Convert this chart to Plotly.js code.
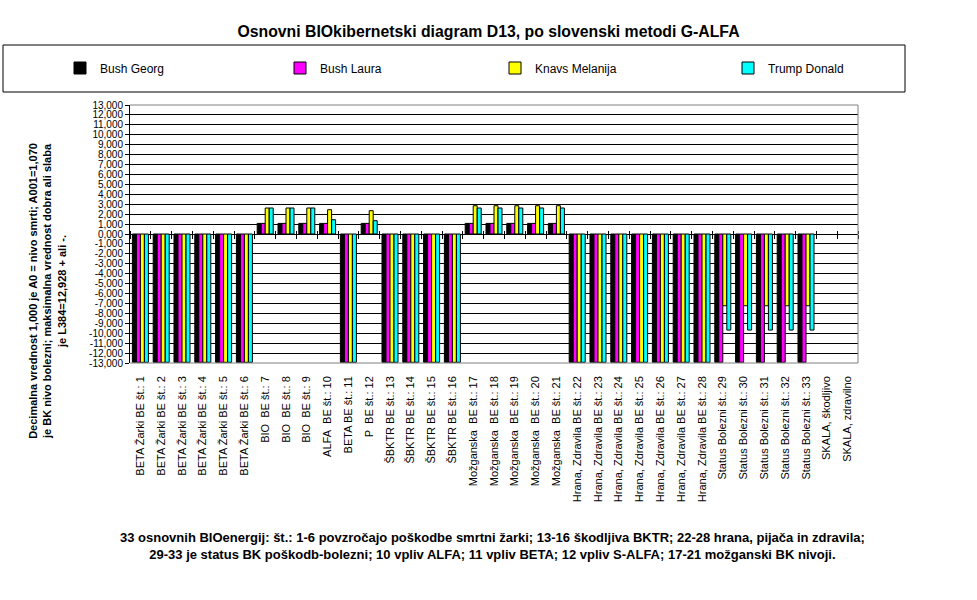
<!DOCTYPE html>
<html><head><meta charset="utf-8">
<script src="https://cdn.plot.ly/plotly-3.0.1.min.js"></script>
<style>html,body{margin:0;padding:0;background:#fff}#chart{width:977px;height:600px}</style>
</head><body><div id="chart"></div>
<script>
const categories = [
  "BETA Žarki BE št.: 1","BETA Žarki BE št.: 2","BETA Žarki BE št.: 3","BETA Žarki BE št.: 4",
  "BETA Žarki BE št.: 5","BETA Žarki BE št.: 6",
  "BIO\u00a0 BE št.: 7","BIO\u00a0 BE št.: 8","BIO\u00a0 BE št.: 9",
  "ALFA\u00a0 BE št.: 10","BETA BE št.: 11","P\u00a0 BE št.: 12",
  "ŠBKTR BE št.: 13","ŠBKTR BE št.: 14","ŠBKTR BE št.: 15","ŠBKTR BE št.: 16",
  "Možganska\u00a0 BE št.: 17","Možganska\u00a0 BE št.: 18","Možganska\u00a0 BE št.: 19",
  "Možganska\u00a0 BE št.: 20","Možganska\u00a0 BE št.: 21",
  "Hrana, Zdravila BE št.: 22","Hrana, Zdravila BE št.: 23","Hrana, Zdravila BE št.: 24",
  "Hrana, Zdravila BE št.: 25","Hrana, Zdravila BE št.: 26","Hrana, Zdravila BE št.: 27",
  "Hrana, Zdravila BE št.: 28",
  "Status Bolezni št.: 29","Status Bolezni št.: 30","Status Bolezni št.: 31",
  "Status Bolezni št.: 32","Status Bolezni št.: 33",
  "SKALA, škodljivo","SKALA, zdravilno"
];
const seriesNames = ["Bush Georg","Bush Laura","Knavs Melanija","Trump Donald"];
const bushGeorg = [-12.93,-12.93,-12.93,-12.93,-12.93,-12.93, 1.07,1.07,1.07, 1.07,-12.93,1.07,
  -12.93,-12.93,-12.93,-12.93, 1.07,1.07,1.07,1.07,1.07,
  -12.93,-12.93,-12.93,-12.93,-12.93,-12.93,-12.93, -12.93,-12.93,-12.93,-12.93,-12.93, null,null];
const bushLaura = [-12.93,-12.93,-12.93,-12.93,-12.93,-12.93, 1.07,1.07,1.07, 1.07,-12.93,1.07,
  -12.93,-12.93,-12.93,-12.93, 1.07,1.07,1.07,1.07,1.07,
  -12.93,-12.93,-12.93,-12.93,-12.93,-12.93,-12.93, -12.93,-12.93,-12.93,-12.93,-12.93, null,null];
const knavsMelanija = [-12.93,-12.93,-12.93,-12.93,-12.93,-12.93, 2.62,2.62,2.62, 2.45,-12.93,2.35,
  -12.93,-12.93,-12.93,-12.93, 2.85,2.85,2.85,2.85,2.85,
  -12.93,-12.93,-12.93,-12.93,-12.93,-12.93,-12.93, -7.23,-7.23,-7.23,-7.23,-7.23, null,null];
const trumpDonald = [-12.93,-12.93,-12.93,-12.93,-12.93,-12.93, 2.62,2.62,2.62, 1.44,-12.93,1.34,
  -12.93,-12.93,-12.93,-12.93, 2.62,2.62,2.62,2.62,2.62,
  -12.93,-12.93,-12.93,-12.93,-12.93,-12.93,-12.93, -9.68,-9.68,-9.68,-9.68,-9.68, null,null];
const yTickVals = [13,12,11,10,9,8,7,6,5,4,3,2,1,0,-1,-2,-3,-4,-5,-6,-7,-8,-9,-10,-11,-12,-13];
const yTickText = ["13,000","12,000","11,000","10,000","9,000","8,000","7,000","6,000","5,000",
  "4,000","3,000","2,000","1,000","0,000","-1,000","-2,000","-3,000","-4,000","-5,000","-6,000",
  "-7,000","-8,000","-9,000","-10,000","-11,000","-12,000","-13,000"];
const colors = ["#000000","#FF00FF","#FFFF00","#00FFFF"];
const chartTitle = "Osnovni BIOkibernetski diagram D13, po slovenski metodi G-ALFA";
const yTitle = "Decimalna vrednost 1,000 je A0 = nivo smrti; A001=1,070<br>je BK nivo bolezni; maksimalna vrednost dobra ali slaba<br>je L384=12,928 + ali -.";
const xTitle = "33 osnovnih BIOenergij: št.: 1-6 povzročajo poškodbe smrtni žarki; 13-16 škodljiva BKTR; 22-28 hrana, pijača in zdravila;<br>29-33 je status BK poškodb-bolezni; 10 vpliv ALFA; 11 vpliv BETA; 12 vpliv S-ALFA; 17-21 možganski BK nivoji.";

const FONT = "Arial, 'Liberation Sans', sans-serif";
const values = [bushGeorg, bushLaura, knavsMelanija, trumpDonald];
const legendIds = ["legend","legend2","legend3","legend4"];
const traces = values.map((v, i) => ({
  type: "bar", name: seriesNames[i], x: categories, y: v, legend: legendIds[i],
  marker: {color: colors[i], line: {color: "#000000", width: 1}},
  hoverinfo: "x+y+name"
}));
traces.push({type: "scatter", mode: "markers", x: categories, y: categories.map(() => null),
  xaxis: "x2", showlegend: false, hoverinfo: "skip"});
traces.push({type: "scatter", mode: "markers", x: categories, y: categories.map(() => null),
  xaxis: "x3", showlegend: false, hoverinfo: "skip"});

const legendLeftPx = [60, 280, 495, 728];
const mkLegend = (px) => ({orientation: "h", xref: "container", x: px/977, xanchor: "left",
  yref: "container", y: 1 - 68/600, yanchor: "middle", font: {family: FONT, size: 12},
  bgcolor: "rgba(0,0,0,0)", borderwidth: 0, itemwidth: 30});

const xr = [-0.5, categories.length - 0.5];
const layout = {
  width: 977, height: 600,
  paper_bgcolor: "#ffffff", plot_bgcolor: "#ffffff",
  margin: {l: 130, r: 119, t: 105, b: 237},
  font: {family: FONT, size: 11, color: "#000000"},
  title: {text: chartTitle, font: {family: FONT, size: 15.8, color: "#000", weight: "bold"},
    x: 0.5, xref: "container", y: 1 - 31/600, yref: "container", yanchor: "middle"},
  barmode: "group", bargap: 0.23, bargroupgap: 0,
  showlegend: true,
  legend: mkLegend(legendLeftPx[0]),
  legend2: mkLegend(legendLeftPx[1]),
  legend3: mkLegend(legendLeftPx[2]),
  legend4: mkLegend(legendLeftPx[3]),
  xaxis: {type: "category", categoryorder: "array", categoryarray: categories, range: xr,
    tickangle: -90, ticks: "", showgrid: false, zeroline: false, showline: false,
    ticklabelstandoff: 10,
    tickfont: {family: FONT, size: 11}, automargin: false},
  xaxis2: {type: "category", categoryorder: "array", categoryarray: categories, range: xr,
    overlaying: "x", anchor: "free", position: 0.5, side: "bottom", showticklabels: false,
    ticks: "outside", ticklen: 4, tickcolor: "#000", tickson: "boundaries", showgrid: false,
    zeroline: false, showline: false},
  xaxis3: {type: "category", categoryorder: "array", categoryarray: categories, range: xr,
    overlaying: "x", anchor: "free", position: 0.5, side: "top", showticklabels: false,
    ticks: "outside", ticklen: 3, tickcolor: "#000", tickson: "boundaries", showgrid: false,
    zeroline: false, showline: false},
  yaxis: {range: [-13, 13], tickmode: "array", tickvals: yTickVals, ticktext: yTickText,
    ticks: "outside", ticklen: 4, tickcolor: "#000", showline: true, linecolor: "#000", linewidth: 1,
    showgrid: true, gridcolor: "#000", gridwidth: 1, zeroline: true, zerolinecolor: "#000",
    zerolinewidth: 1, tickfont: {family: FONT, size: 10}, automargin: false},
  shapes: [
    {type: "line", xref: "x domain", yref: "y domain", x0: 0, x1: 1, y0: 1, y1: 1, line: {color: "#808080", width: 1}},
    {type: "line", xref: "x domain", yref: "y domain", x0: 1, x1: 1, y0: 0, y1: 1, line: {color: "#808080", width: 1}},
    {type: "line", xref: "x domain", yref: "y domain", x0: 0, x1: 1, y0: 0, y1: 0, line: {color: "#808080", width: 1}},
    {type: "rect", xref: "paper", yref: "paper", x0: (3-130)/728, x1: (905-130)/728,
      y0: (363-92)/258, y1: (363-45)/258, line: {color: "#000", width: 1}, fillcolor: "rgba(0,0,0,0)"}
  ],
  annotations: [
    {text: yTitle, xref: "paper", yref: "paper", x: (47-130)/728, y: (363-291)/258,
      textangle: -90, showarrow: false, xanchor: "center", yanchor: "middle",
      font: {family: FONT, size: 11, weight: "bold"}, align: "center"},
    {text: xTitle, xref: "paper", yref: "paper", x: (492-130)/728, y: (363-545.5)/258,
      showarrow: false, xanchor: "center", yanchor: "middle",
      font: {family: FONT, size: 13, weight: "bold"}, align: "center"}
  ]
};
Plotly.newPlot("chart", traces, layout, {displayModeBar: false, staticPlot: true});
</script></body></html>
